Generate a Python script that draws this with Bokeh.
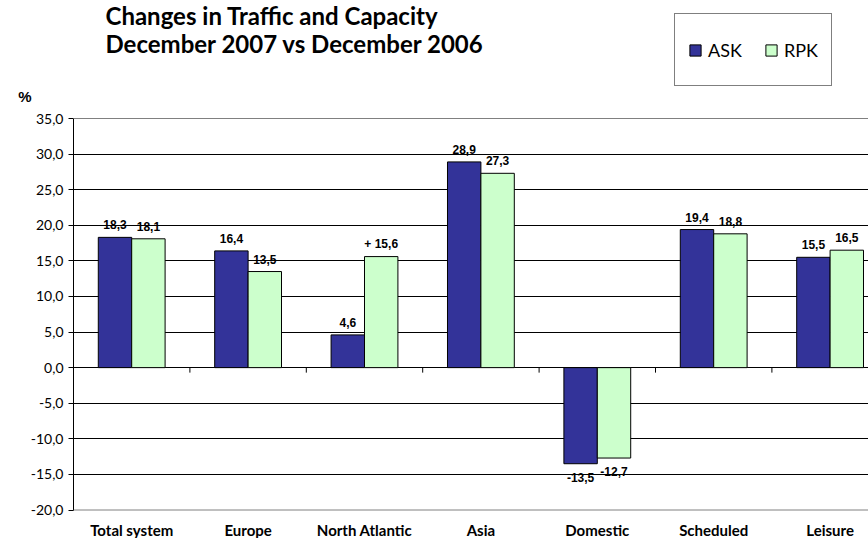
from bokeh.plotting import figure
from bokeh.models import (Range1d, FixedTicker, LinearAxis, Label, Legend, LegendItem,
                          ColumnDataSource, Grid, Span)
from bokeh.core.properties import value
from bokeh.embed import file_html
from bokeh.resources import INLINE

categories = ["Total system", "Europe", "North Atlantic", "Asia", "Domestic", "Scheduled", "Leisure"]
ask = [18.3, 16.4, 4.6, 28.9, -13.5, 19.4, 15.5]
rpk = [18.1, 13.5, 15.6, 27.3, -12.7, 18.8, 16.5]
rpk_prefix = ["", "", "+ ", "", "", "", ""]
y_ticks = [-20, -15, -10, -5, 0, 5, 10, 15, 20, 25, 30, 35]
title_lines = ["Changes in Traffic and Capacity", "December 2007 vs December 2006"]

ASK_COLOR = "#333399"
RPK_COLOR = "#CCFFCC"

W, H = 868, 538
LEFT = 73
PLOT_TOP = 118.0        # pixel row of the 35,0 line
PLOT_BOTTOM = 509.5     # pixel row of the -20,0 line
CAT_PX = 116.4
y_min, y_max = -20, 35
frame_w = W - LEFT
ppu = (PLOT_BOTTOM - PLOT_TOP) / (y_max - y_min)

def dx(px):
    return (px - LEFT) / CAT_PX

def dy(py):
    return y_max - (py - PLOT_TOP) / ppu

p = figure(width=W, height=H, output_backend="svg", toolbar_location=None,
           x_range=Range1d(0, frame_w / CAT_PX), y_range=Range1d(dy(H), dy(0)),
           min_border_left=LEFT, min_border_right=0, min_border_top=0,
           min_border_bottom=0, x_axis_location=None, y_axis_location=None)
p.outline_line_color = None
p.background_fill_color = "white"
p.border_fill_color = "white"
p.xgrid.visible = False
p.ygrid.visible = False

# y axis
yax = LinearAxis(ticker=FixedTicker(ticks=y_ticks), bounds=(y_min, y_max))
yax.major_label_overrides = {t: f"{t:.1f}".replace(".", ",") for t in y_ticks}
yax.axis_line_color = "black"
yax.major_tick_line_color = "black"
yax.major_tick_out = 5
yax.major_tick_in = 0
yax.minor_tick_line_color = None
yax.major_label_standoff = 5
yax.major_label_text_font = "Lato"
yax.major_label_text_font_size = "14px"
yax.major_label_text_color = "black"
p.add_layout(yax, "left")

# unit label "%" as an outer axis label
pct_y = round(dy(96), 2)
pax = LinearAxis(ticker=FixedTicker(ticks=[pct_y]))
pax.major_label_overrides = {pct_y: "%"}
pax.axis_line_color = None
pax.major_tick_line_color = None
pax.minor_tick_line_color = None
pax.major_tick_out = 0
pax.major_tick_in = 0
pax.major_label_standoff = -4
pax.major_label_text_font = "Liberation Sans"
pax.major_label_text_font_style = "bold"
pax.major_label_text_font_size = "15px"
pax.major_label_text_color = "black"
p.add_layout(pax, "left")

# grid lines, top and bottom border of the plot area
g = Grid(dimension=1, ticker=FixedTicker(ticks=[t for t in y_ticks if y_min < t < y_max]))
g.grid_line_color = "black"
g.grid_line_width = 1
p.add_layout(g)
p.add_layout(Span(location=y_max, dimension="width", line_color="#808080", line_width=1))
p.add_layout(Span(location=y_min, dimension="width", line_color="#808080", line_width=1))

# bars
n = len(categories)
bw = 0.287
x_ask = [i + 0.5 - bw / 2 for i in range(n)]
x_rpk = [i + 0.5 + bw / 2 for i in range(n)]
r_ask = p.vbar(x=x_ask, top=ask, bottom=0, width=bw, fill_color=ASK_COLOR,
               line_color="black", line_width=1)
r_rpk = p.vbar(x=x_rpk, top=rpk, bottom=0, width=bw, fill_color=RPK_COLOR,
               line_color="black", line_width=1)

# tick marks on the zero line at category boundaries
bounds = list(range(1, n))
p.segment(x0=bounds, y0=[0] * len(bounds), x1=bounds, y1=[-5 / ppu] * len(bounds),
          line_color="black", line_width=1)

# category labels below the plot area
p.text(x=[i + 0.5 for i in range(n)], y=[y_min] * n, text=categories, y_offset=20,
       text_baseline="middle", text_align="center", text_font=value("Lato"),
       text_font_style="bold", text_font_size="15px", text_color="black")

# value labels
def fmt(v):
    return f"{v:.1f}".replace(".", ",")

lx, ly, lt = [], [], []
for i in range(n):
    for xv, v, pre in ((x_ask[i], ask[i], ""), (x_rpk[i], rpk[i], rpk_prefix[i])):
        lx.append(xv)
        ly.append(v + (12.5 if v >= 0 else -13.5) / ppu)
        lt.append(pre + fmt(v))
src = ColumnDataSource(dict(x=lx, y=ly, text=lt))
p.text(x="x", y="y", text="text", source=src, text_baseline="middle",
       text_align="center", text_font=value("Liberation Sans"), text_font_style="bold",
       text_font_size="12px", text_color="black")

# title
for k, line in enumerate(title_lines):
    p.add_layout(Label(x=dx(105), y=dy(15.0 + 27.5 * k), text=line, text_font="Lato",
                       text_font_style="bold", text_font_size="24px", text_color="black",
                       text_baseline="middle", text_align="left"))

# legend
legend = Legend(items=[LegendItem(label="ASK", renderers=[r_ask]),
                       LegendItem(label="RPK", renderers=[r_rpk])],
                orientation="horizontal", location=(674 - LEFT, H - 86),
                padding=13, spacing=22, glyph_width=14, glyph_height=14, label_standoff=6,
                label_height=45, margin=0,
                label_text_font="Lato", label_text_font_size="18px", label_text_color="black",
                border_line_color="black", border_line_width=1, background_fill_alpha=1)
p.add_layout(legend, "center")

open("out.html", "w").write(file_html(p, INLINE))
